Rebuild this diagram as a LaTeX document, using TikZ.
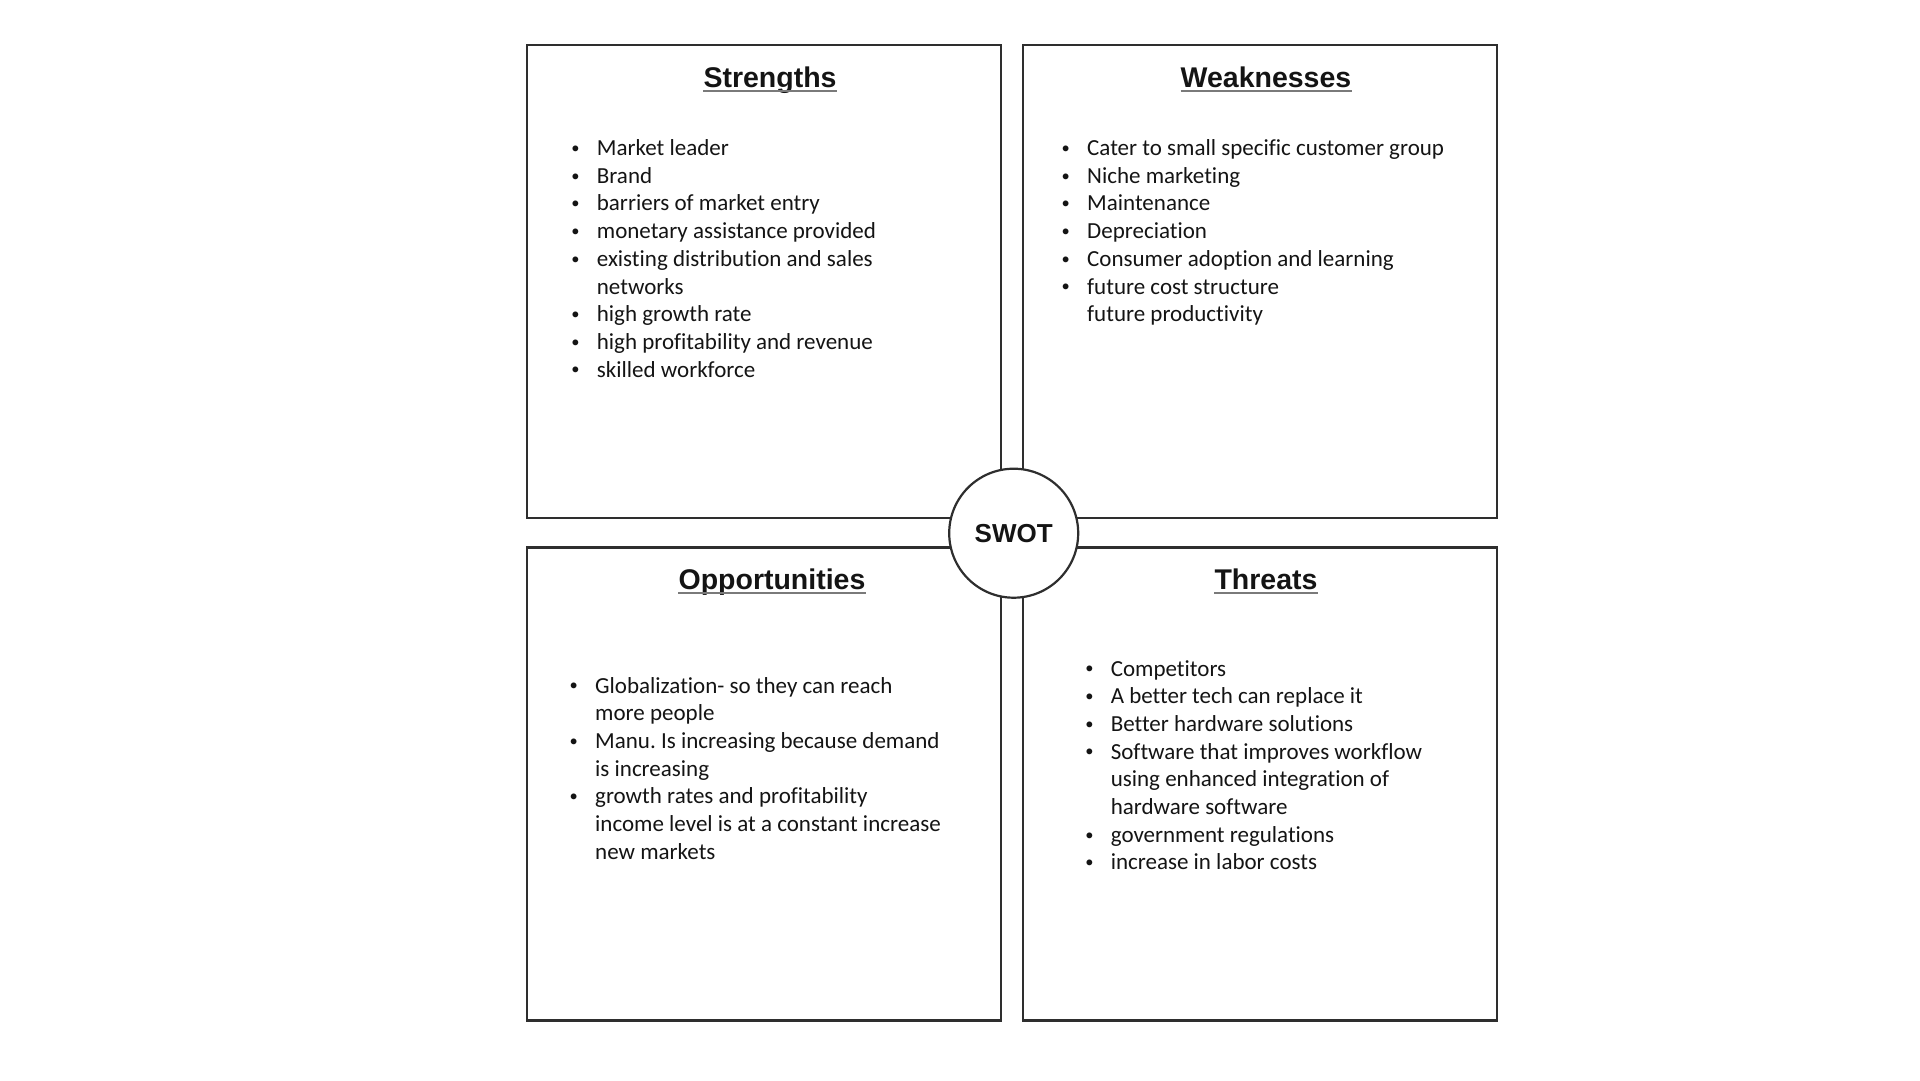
\documentclass[tikz,border=0pt]{standalone}
\usepackage{fontspec}
\setmainfont{Carlito}[Ligatures={NoCommon}]
\newfontfamily\headfont{Liberation Sans}
\usepackage{xcolor}
\usepackage{tikz}
\definecolor{edgegray}{HTML}{2E2E2E}
\definecolor{linegray}{HTML}{7A7A7A}
\definecolor{ink}{HTML}{141414}
\newcommand{\blt}{\makebox[26pt][l]{\hspace{0.5pt}\raisebox{2.2pt}{\fontsize{16.5}{16.5}\selectfont\textbullet}}}

\begin{document}
\frenchspacing
\begin{tikzpicture}[x=1pt,y=-1pt,
    quad/.style={draw=edgegray,line width=2.2pt,minimum width=474pt,minimum height=473pt,inner sep=0pt},
    heading/.style={font=\headfont\bfseries\fontsize{28.5}{34}\selectfont,text=ink,inner sep=0pt,anchor=base},
    items/.style={font=\fontsize{23}{27.7}\selectfont,text=ink,inner sep=0pt,anchor=base west},
    uline/.style={draw=linegray,line width=2pt}]
    \useasboundingbox (0,0) rectangle (1920,1080);

    \node[quad] (S) at (764,281.5) {};
    \node[quad] (W) at (1260,281.5) {};
    \node[quad] (O) at (764,784) {};
    \node[quad] (T) at (1260,784) {};

    \node[heading] (tS) at (770,87.5) {Strengths};
    \node[heading] (tW) at (1266,87.5) {Weaknesses};
    \node[heading] (tO) at (772,589.5) {Opportunities};
    \node[heading] (tT) at (1266,589.5) {Threats};

    \foreach \t in {tS,tW,tO,tT}
      \draw[uline] ([yshift=-3.5pt]\t.base west) -- ([yshift=-3.5pt]\t.base east);

    \node[items] (lS) at (570.7,155.5) {\begin{tabular}[t]{@{}l@{}l@{}}
      \blt & Market leader\\
      \blt & Brand\\
      \blt & barriers of market entry\\
      \blt & monetary assistance provided\\
      \blt & existing distribution and sales\\
           & networks\\
      \blt & high growth rate\\
      \blt & high profitability and revenue\\
      \blt & skilled workforce
    \end{tabular}};

    \node[items] (lW) at (1061,155.5) {\begin{tabular}[t]{@{}l@{}l@{}}
      \blt & Cater to small specific customer group\\
      \blt & Niche marketing\\
      \blt & Maintenance\\
      \blt & Depreciation\\
      \blt & Consumer adoption and learning\\
      \blt & future cost structure\\
           & future productivity
    \end{tabular}};

    \node[items] (lO) at (569,693) {\begin{tabular}[t]{@{}l@{}l@{}}
      \blt & Globalization- so they can reach\\
           & more people\\
      \blt & Manu. Is increasing because demand\\
           & is increasing\\
      \blt & growth rates and profitability\\
           & income level is at a constant increase\\
           & new markets
    \end{tabular}};

    \node[items] (lT) at (1084.6,676) {\begin{tabular}[t]{@{}l@{}l@{}}
      \blt & Competitors\\
      \blt & A better tech can replace it\\
      \blt & Better hardware solutions\\
      \blt & Software that improves workflow\\
           & using enhanced integration of\\
           & hardware software\\
      \blt & government regulations\\
      \blt & increase in labor costs
    \end{tabular}};

    \node[circle,draw=edgegray,line width=2.2pt,fill=white,minimum size=129pt,inner sep=0pt,
      font=\headfont\bfseries\fontsize{26}{30}\selectfont,text=ink] (swot) at (1013.7,533.2) {SWOT};
\end{tikzpicture}
\end{document}
